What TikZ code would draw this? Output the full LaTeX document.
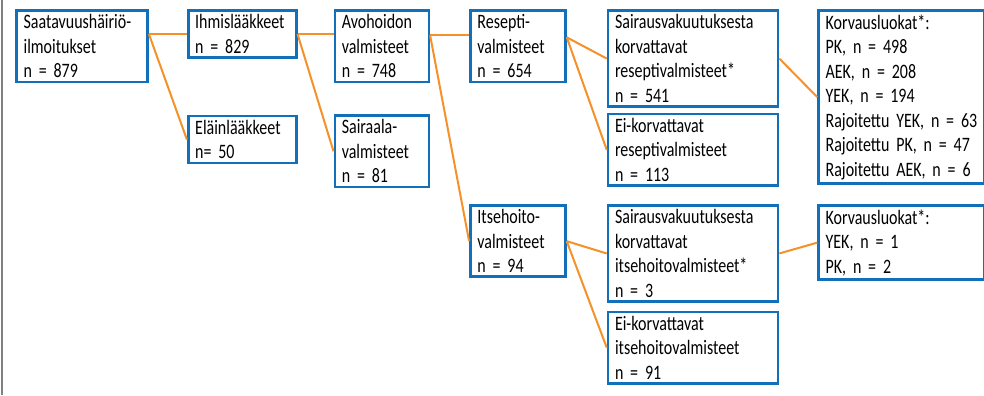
\documentclass[tikz,border=0pt]{standalone}
\usepackage{fontspec}
\setmainfont{Carlito}[FakeStretch=0.78, WordSpace=0.7]
\usetikzlibrary{positioning}
\definecolor{boxblue}{RGB}{18,112,186}
\definecolor{linkorange}{RGB}{245,145,40}

\begin{document}
\begin{tikzpicture}[x=1bp, y=-1bp, node distance=38bp,
        box/.style={draw=boxblue, line width=2.6bp, fill=white, inner xsep=7bp, inner ysep=4bp,
            align=left, font=\fontsize{20.5bp}{24.5bp}\selectfont},
        link/.style={draw=linkorange, line width=2bp}]
        \useasboundingbox (0,0) rectangle (984,395);
        \draw[gray, line width=2bp] (2,0) -- (2,395);

        \node[box, text width=117bp, anchor=north west] (saat) at (15.3,9.3) {Saatavuushäiriö-\\ilmoitukset\\n = 879};
        \node[box, text width=94bp] (ihmis) [right=38bp of saat.north east, anchor=north west] {Ihmislääkkeet\\n = 829};
        \node[box, text width=94bp] (elain) [below=56bp of ihmis.south west, anchor=north west] {Eläinlääkkeet\\n= 50};
        \node[box, text width=80bp] (avo) [right=36bp of ihmis.north east, anchor=north west] {Avohoidon\\valmisteet\\n = 748};
        \node[box, text width=80bp] (sairaala) [below=31bp of avo.south west, anchor=north west] {Sairaala-\\valmisteet\\n = 81};
        \node[box, text width=81bp] (resepti) [right=39bp of avo.north east, anchor=north west] {Resepti-\\valmisteet\\n = 654};
        \node[box, text width=81bp] (itse) [below=121bp of resepti.south west, anchor=north west] {Itsehoito-\\valmisteet\\n = 94};
        \node[box, text width=156bp] (svres) [right=40bp of resepti.north east, anchor=north west] {Sairausvakuutuksesta\\korvattavat\\reseptivalmisteet*\\n = 541};
        \node[box, text width=156bp] (eires) [below=5bp of svres.south west, anchor=north west] {Ei-korvattavat\\reseptivalmisteet\\n = 113};
        \node[box, text width=156bp] (svitse) [right=40bp of itse.north east, anchor=north west] {Sairausvakuutuksesta\\korvattavat\\itsehoitovalmisteet*\\n = 3};
        \node[box, text width=156bp] (eiitse) [below=8bp of svitse.south west, anchor=north west] {Ei-korvattavat\\itsehoitovalmisteet\\n = 91};
        \node[box, text width=152bp] (korvres) [right=38bp of svres.north east, anchor=north west] {Korvausluokat*:\\PK, n = 498\\AEK, n = 208\\YEK, n = 194\\Rajoitettu YEK, n = 63\\Rajoitettu PK, n = 47\\Rajoitettu AEK, n = 6};
        \node[box, text width=152bp] (korvitse) [right=38bp of svitse.north east, anchor=north west] {Korvausluokat*:\\YEK, n = 1\\PK, n = 2};

        \draw[link] (saat.east |- ihmis.west) -- (ihmis.west);
        \draw[link] (saat.east |- ihmis.west) -- (elain.west);
        \draw[link] (ihmis.east) -- (ihmis.east -| avo.west);
        \draw[link] (ihmis.east) -- (sairaala.west);
        \draw[link] ([yshift=-26bp]avo.north east) -- ([yshift=-26bp]resepti.north west);
        \draw[link] ([yshift=-26bp]avo.north east) -- (itse.west);
        \draw[link] ([yshift=-28bp]resepti.north east) -- (svres.west);
        \draw[link] ([yshift=-28bp]resepti.north east) -- (eires.west);
        \draw[link] (svres.east) -- (korvres.west);
        \draw[link] (itse.east) -- (svitse.west);
        \draw[link] (itse.east) -- (eiitse.west);
        \draw[link] (svitse.east) -- (korvitse.west);
    \end{tikzpicture}
\end{document}
